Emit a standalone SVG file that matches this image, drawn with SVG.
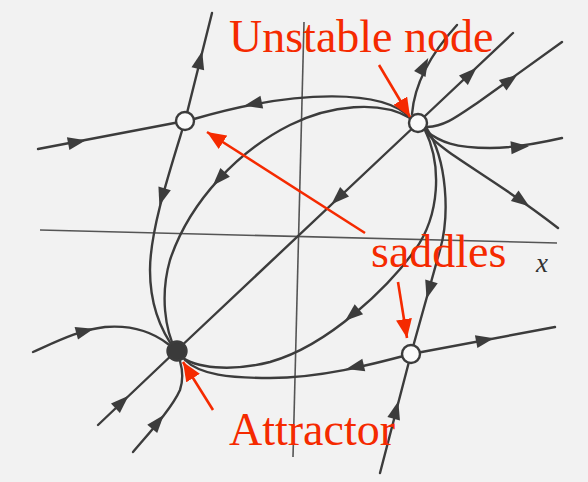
<svg xmlns="http://www.w3.org/2000/svg" xmlns:xlink="http://www.w3.org/1999/xlink" width="588" height="482" viewBox="0 0 588 482">
<style>
.axis{stroke:#555;stroke-width:1.6;fill:none}
.traj{stroke:#3c3c3c;stroke-width:2.4;fill:none;stroke-linecap:round}
.ah{fill:#3c3c3c}
.node{stroke:#3c3c3c;stroke-width:2.4}
.open{fill:#fafafa}
.filled{fill:#3a3a3a}
.red{stroke:#f52a00;stroke-width:2.6;fill:none}
.lbl{font-family:"Liberation Serif","Times New Roman",serif;font-size:46px;fill:#f52a00}
.xl{font-family:"Liberation Serif","Times New Roman",serif;font-size:27px;font-style:italic;fill:#333}
</style>
<defs>
<path id="ah" d="M9,0 L-9,-6.5 L-9,6.5 Z"/>
<marker id="redhead" markerUnits="userSpaceOnUse" markerWidth="20" markerHeight="16" refX="19" refY="8" orient="auto">
<path d="M0,0 L19,8 L0,16 Z" fill="#f52a00"/>
</marker>
</defs>
<rect width="588" height="482" fill="#f2f2f2"/>
<g id="axes">
<path class="axis" d="M304,22 L293,457"/>
<path class="axis" d="M40,230 L557,243"/>
<text class="xl" x="536" y="272">x</text>
</g>
<g id="connectors">
<!-- top-left saddle -->
<path class="traj" d="M185,121 L212,13"/>
<use href="#ah" class="ah" transform="translate(200,60) rotate(-76)"/>
<path class="traj" d="M185,121 C170,170 150,230 150,270 C150,305 160,330 176,351"/>
<use href="#ah" class="ah" transform="translate(162,197) rotate(107)"/>
<path class="traj" d="M38,149 L185,121"/>
<use href="#ah" class="ah" transform="translate(77,142) rotate(-11)"/>
<path class="traj" d="M410,118 C385,90 300,88 194,119"/>
<use href="#ah" class="ah" transform="translate(253,104) rotate(168)"/>
<!-- unstable node outgoing -->
<path class="traj" d="M410,118 C380,100 330,105 290,125 C240,150 190,200 170,260 C160,295 165,330 176,351"/>
<use href="#ah" class="ah" transform="translate(219,179) rotate(133)"/>
<path class="traj" d="M418,123 L176,351"/>
<use href="#ah" class="ah" transform="translate(338,198) rotate(137)"/>
<path class="traj" d="M425,130 C442,165 440,215 415,250 C390,285 330,345 270,362 C230,372 195,368 180,356"/>
<use href="#ah" class="ah" transform="translate(352,315) rotate(140)"/>
<path class="traj" d="M427,129 C447,160 450,215 440,250 L411,354"/>
<use href="#ah" class="ah" transform="translate(429,290) rotate(106)"/>
<path class="traj" d="M412,114 C414,90 425,60 457,25"/>
<use href="#ah" class="ah" transform="translate(424,66) rotate(-62)"/>
<path class="traj" d="M425,116 L513,33"/>
<use href="#ah" class="ah" transform="translate(470,74) rotate(-43)"/>
<path class="traj" d="M427,127 C445,126 455,118 480,101 L562,42"/>
<use href="#ah" class="ah" transform="translate(510,80) rotate(-36)"/>
<path class="traj" d="M426,131 C440,142 455,148 490,148 C515,148 540,143 562,138"/>
<use href="#ah" class="ah" transform="translate(520,147) rotate(-5)"/>
<path class="traj" d="M426,132 C445,155 490,175 558,228"/>
<use href="#ah" class="ah" transform="translate(522,201) rotate(36)"/>
<!-- bottom-right saddle -->
<path class="traj" d="M380,473 L411,354"/>
<use href="#ah" class="ah" transform="translate(396,410) rotate(-75)"/>
<path class="traj" d="M411,354 L555,327"/>
<use href="#ah" class="ah" transform="translate(485,340) rotate(-11)"/>
<path class="traj" d="M411,354 C370,365 320,378 270,378 C230,378 200,375 185,360"/>
<use href="#ah" class="ah" transform="translate(355,367) rotate(167)"/>
<!-- attractor incoming -->
<path class="traj" d="M33,352 C60,340 80,330 105,327 C130,325 150,330 168,344"/>
<use href="#ah" class="ah" transform="translate(85,331) rotate(-15)"/>
<path class="traj" d="M98,425 L176,351"/>
<use href="#ah" class="ah" transform="translate(122,402) rotate(-43)"/>
<path class="traj" d="M133,452 C150,432 172,408 180,390 C184,378 182,368 180,361"/>
<use href="#ah" class="ah" transform="translate(158,422) rotate(-50)"/>
</g>
<g id="saddle-top-left"><circle class="node open" cx="185" cy="121" r="9"/></g>
<g id="unstable-node"><circle class="node open" cx="418" cy="123" r="9"/></g>
<g id="saddle-bottom-right"><circle class="node open" cx="411" cy="354" r="9"/></g>
<g id="attractor"><circle class="node filled" cx="177" cy="351" r="9.5"/></g>
<g id="annotations">
<path class="red" d="M379,65 L410,117" marker-end="url(#redhead)"/>
<path class="red" d="M365,233 L207,132" marker-end="url(#redhead)"/>
<path class="red" d="M398,282 L407,338" marker-end="url(#redhead)"/>
<path class="red" d="M213,410 L183,362" marker-end="url(#redhead)"/>
<text class="lbl" x="229" y="52">Unstable node</text>
<text class="lbl" x="371" y="267">saddles</text>
<text class="lbl" x="229" y="445">Attractor</text>
</g>
</svg>
